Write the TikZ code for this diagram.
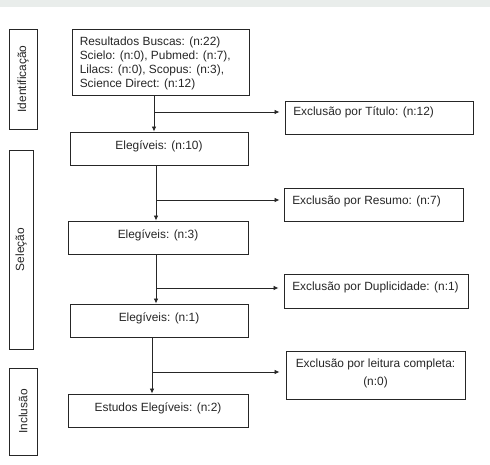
\documentclass[tikz,border=0pt]{standalone}
\usepackage{fontspec}
\setmainfont{Liberation Sans}
\usetikzlibrary{arrows.meta,calc}
\definecolor{band}{HTML}{E9EDEB}
\definecolor{ink}{HTML}{262626}
\definecolor{txt}{HTML}{262626}
\tikzset{
  boxst/.style={draw=ink,line width=0.9pt,minimum width=#1,inner sep=0pt,rectangle},
  lbl/.style={inner sep=0pt,text=txt,font=\fontsize{11.9}{14}\selectfont},
  arr/.style={draw=ink,line width=0.8pt,-{Latex[length=5pt,width=4.5pt]}},
  conn/.style={draw=ink!80,line width=0.8pt}
}
\begin{document}
\begin{tikzpicture}[x=1pt,y=-1pt]
\useasboundingbox (0,0) rectangle (490,465);
\fill[band] (0,0) rectangle (490,7);
% side boxes
\node[boxst=28pt,minimum height=100pt] (s1) at (23,79) {};
\node[boxst=24pt,minimum height=199pt] (s2) at (21,249.5) {};
\node[boxst=28pt,minimum height=87pt] (s3) at (23,411.5) {};
\node[lbl,rotate=90] (s1t) at (s1.center) {Identificação};
\node[lbl,rotate=90] (s2t) at (s2.center) {Seleção};
\node[lbl,rotate=90] (s3t) at (s3.center) {Inclusão};
% main boxes
\node[boxst=177pt,minimum height=66pt] (b1) at (160.5,62) {};
\node[boxst=178pt,minimum height=33pt] (b2) at (159,148.5) {};
\node[boxst=180pt,minimum height=33pt] (b3) at (158,237.5) {};
\node[boxst=178pt,minimum height=33pt] (b4) at (159,320.5) {};
\node[boxst=180pt,minimum height=33pt] (b5) at (158,410.5) {};
% exclusion boxes
\node[boxst=188pt,minimum height=33pt] (e1) at (379,117.5) {};
\node[boxst=179pt,minimum height=33pt] (e2) at (373.5,204.5) {};
\node[boxst=184pt,minimum height=34pt] (e3) at (376,291) {};
\node[boxst=179pt,minimum height=48pt] (e4) at (375.5,375) {};
% texts
\node[lbl,anchor=north west,align=left] (b1t) at ($(b1.north west)+(8,8.5)$)
  {Resultados Buscas: (n:22)\\Scielo: (n:0), Pubmed: (n:7),\\Lilacs: (n:0), Scopus: (n:3),\\Science Direct: (n:12)};
\node[lbl,anchor=north] (b2t) at ($(b2.north)+(0,8.5)$) {Elegíveis: (n:10)};
\node[lbl,anchor=north] (b3t) at ($(b3.north)+(0,8.5)$) {Elegíveis: (n:3)};
\node[lbl,anchor=north] (b4t) at ($(b4.north)+(0,8.5)$) {Elegíveis: (n:1)};
\node[lbl,anchor=north] (b5t) at ($(b5.north)+(0,8.5)$) {Estudos Elegíveis: (n:2)};
\node[lbl,anchor=north west] (e1t) at ($(e1.north west)+(8.5,5.5)$) {Exclusão por Título: (n:12)};
\node[lbl,anchor=north west] (e2t) at ($(e2.north west)+(8.5,8.5)$) {Exclusão por Resumo: (n:7)};
\node[lbl,anchor=north west] (e3t) at ($(e3.north west)+(8.5,8.5)$) {Exclusão por Duplicidade: (n:1)};
\node[lbl,anchor=north,align=center,font=\fontsize{11.9}{17.5}\selectfont] (e4t) at ($(e4.north)+(0,8.5)$) {Exclusão por leitura completa:\\(n:0)};
% junctions
\coordinate (j1) at (154,112);
\coordinate (j2) at (156,200);
\coordinate (j3) at (156,288);
\coordinate (j4) at (152,372);
% connectors
\draw[arr] (j1 |- b1.south) -- (j1 |- b2.north);
\draw[arr] (j2 |- b2.south) -- (j2 |- b3.north);
\draw[arr] (j3 |- b3.south) -- (j3 |- b4.north);
\draw[arr] (j4 |- b4.south) -- (j4 |- b5.north);
\draw[arr,shorten >=5pt] (j1) -- (e1.west |- j1);
\draw[arr,shorten >=4pt] (j2) -- (e2.west |- j2);
\draw[arr,shorten >=5pt] (j3) -- (e3.west |- j3);
\draw[arr,shorten >=6pt] (j4) -- (e4.west |- j4);
\end{tikzpicture}
\end{document}
